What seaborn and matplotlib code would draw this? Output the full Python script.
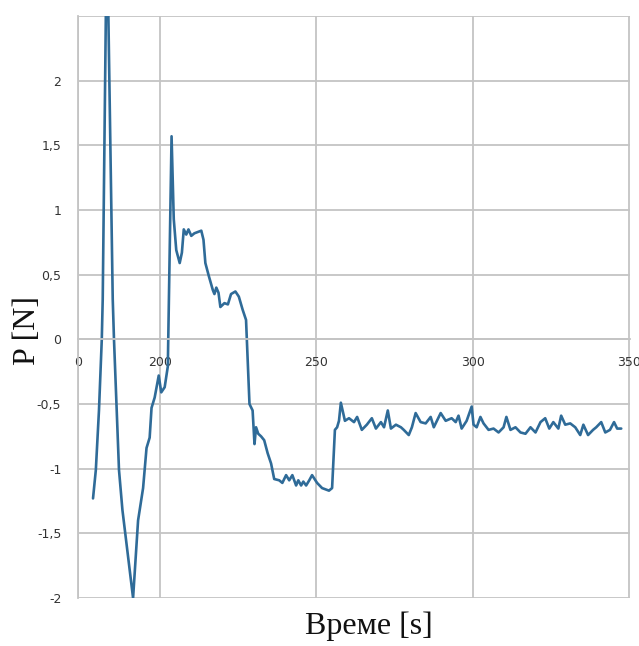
import matplotlib
matplotlib.use("Agg")
import matplotlib.pyplot as plt
import seaborn as sns
import pandas as pd

time_s = [
    178.7, 179.6, 180.6, 181.5, 181.8, 182.8, 183.1, 183.6, 185.0, 185.4,
    187.0, 188.1, 191.5, 193.1, 194.7, 195.8, 196.8, 197.4, 198.4, 199.7,
    200.5, 201.6, 202.6, 203.8, 204.5, 205.3, 206.4, 207.1, 207.7, 208.5,
    209.2, 210.1, 211.1, 213.3, 214.0, 214.6, 215.7, 217.0, 217.5, 218.1,
    218.8, 219.4, 220.7, 221.8, 222.8, 224.2, 225.3, 226.5, 227.6, 228.7,
    229.7, 230.3, 230.8, 231.5, 232.4, 233.4, 234.5, 235.6, 236.6, 238.2,
    239.2, 240.4, 241.4, 242.4, 243.6, 244.3, 245.2, 245.9, 246.8, 247.8,
    248.7, 250.3, 251.9, 254.1, 255.1, 256.0, 256.7, 257.3, 257.9, 259.2,
    260.5, 262.1, 263.1, 264.6, 266.2, 267.8, 269.1, 270.7, 271.7, 272.9,
    273.9, 275.5, 277.1, 278.0, 279.6, 280.6, 281.8, 283.4, 285.0, 286.6,
    287.6, 289.8, 291.4, 293.3, 294.6, 295.5, 296.5, 298.1, 299.7, 300.3,
    301.3, 302.5, 303.5, 305.1, 306.7, 308.3, 309.9, 310.8, 312.1, 313.7,
    315.3, 316.9, 318.5, 320.1, 321.7, 323.2, 324.5, 325.8, 327.4, 328.3,
    329.6, 331.2, 332.8, 334.4, 335.4, 336.9, 338.5, 339.5, 341.1, 342.4,
    343.9, 345.2, 346.2, 347.5,
]
force_n = [
    -1.23, -1.01, -0.55, 0.00, 0.31, 2.51, 2.65, 2.51, 0.31, 0.00,
    -1.01, -1.32, -2.00, -1.40, -1.15, -0.84, -0.76, -0.53, -0.45, -0.28,
    -0.41, -0.37, -0.21, 1.57, 0.93, 0.69, 0.59, 0.67, 0.85, 0.81,
    0.85, 0.80, 0.82, 0.84, 0.77, 0.59, 0.49, 0.38, 0.35, 0.40,
    0.36, 0.25, 0.28, 0.27, 0.35, 0.37, 0.33, 0.23, 0.15, -0.50,
    -0.55, -0.81, -0.68, -0.73, -0.75, -0.78, -0.88, -0.96, -1.08, -1.09,
    -1.11, -1.05, -1.09, -1.05, -1.13, -1.09, -1.13, -1.10, -1.13, -1.09,
    -1.05, -1.11, -1.15, -1.17, -1.15, -0.70, -0.68, -0.63, -0.49, -0.63,
    -0.61, -0.64, -0.60, -0.70, -0.66, -0.61, -0.69, -0.64, -0.68, -0.55,
    -0.69, -0.66, -0.68, -0.70, -0.74, -0.68, -0.57, -0.64, -0.65, -0.60,
    -0.68, -0.57, -0.63, -0.61, -0.64, -0.59, -0.69, -0.63, -0.52, -0.66,
    -0.68, -0.60, -0.65, -0.70, -0.69, -0.72, -0.68, -0.60, -0.70, -0.68,
    -0.72, -0.73, -0.68, -0.72, -0.64, -0.61, -0.69, -0.64, -0.69, -0.59,
    -0.66, -0.65, -0.68, -0.74, -0.66, -0.74, -0.70, -0.68, -0.64, -0.72,
    -0.70, -0.64, -0.69, -0.69,
]

x_ticks = [173.9, 200, 250, 300, 350]
x_tick_labels = ["0", "200", "250", "300", "350"]
y_ticks = [-2, -1.5, -1, -0.5, 0, 0.5, 1, 1.5, 2, 2.5]
y_tick_labels = ["-2", "-1,5", "-1", "-0,5", "0", "0,5", "1", "1,5", "2", ""]

df = pd.DataFrame({"t": time_s, "p": force_n})

sns.set_style("white")
plt.rcParams["font.family"] = ["DejaVu Sans"]

fig = plt.figure(figsize=(6.39, 6.46), dpi=100)
ax = fig.add_axes([78 / 639, 48 / 646, 552 / 639, 582 / 646])

sns.lineplot(data=df, x="t", y="p", ax=ax, color="#2f6b98", linewidth=1.9,
             sort=False, estimator=None)

ax.set_xlim(173.9, 350.3)
ax.set_ylim(-2, 2.5)
ax.set_xticks(x_ticks)
ax.set_xticklabels(x_tick_labels)
ax.set_yticks(y_ticks)
ax.set_yticklabels(y_tick_labels)

grid_c = "#c4c4c4"
ax.grid(True, color=grid_c, linewidth=1.3)
ax.set_axisbelow(True)
for side in ["top", "right"]:
    ax.spines[side].set_visible(False)
ax.spines["left"].set_color(grid_c)
ax.spines["left"].set_linewidth(1.3)
ax.spines["bottom"].set_position(("data", 0))
ax.spines["bottom"].set_color(grid_c)
ax.spines["bottom"].set_linewidth(1.3)

ax.tick_params(axis="both", length=0, labelsize=9, labelcolor="#333333")
ax.tick_params(axis="x", pad=12)
ax.tick_params(axis="y", pad=12)

ax.set_xlabel("Време [s]", family=["Liberation Serif"], fontsize=23, color="#111111")
ax.set_ylabel("P [N]", family=["Liberation Serif"], fontsize=23, color="#111111")
ax.xaxis.set_label_coords(0.527, -0.024)
ax.yaxis.set_label_coords(-0.066, 0.459)

fig.savefig("out.png", dpi=100)
